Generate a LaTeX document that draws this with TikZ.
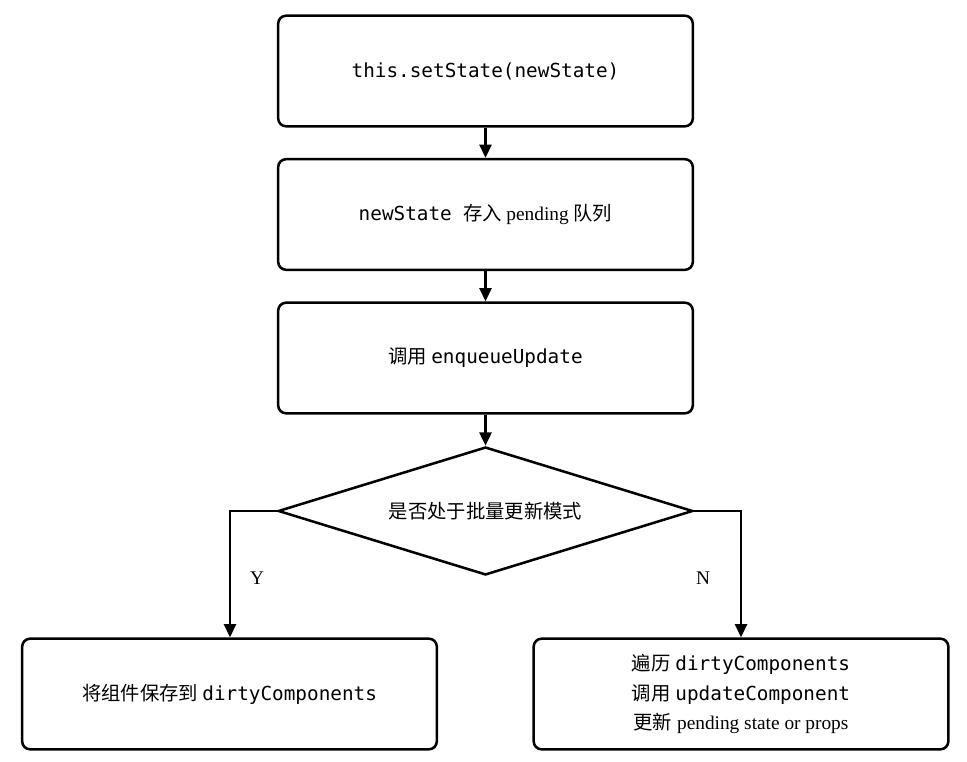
\documentclass[tikz,border=0pt]{standalone}
\usepackage{fontspec}
\setmainfont{Liberation Serif}
\setmonofont{DejaVu Sans Mono}
\newfontfamily\cjk{Noto Sans CJK SC}
\usetikzlibrary{shapes.geometric,arrows.meta}
\begin{document}
\begin{tikzpicture}[x=0.75pt,y=-0.75pt,
  box/.style={draw,line width=1.9pt,rounded corners=6pt,minimum width=311pt,minimum height=83pt,align=center,font=\fontsize{14.5}{22}\selectfont},
  arr/.style={line width=1.9pt,-{Triangle[length=10pt,width=9pt]}},
  lab/.style={font=\fontsize{14.5}{17}\selectfont}]
\useasboundingbox (0,0) rectangle (967,762);
\node[box] (b1) at (485.5,71) {\ttfamily this.setState(newState)};
\node[box] (b2) at (485.5,214.5) {\ttfamily newState \cjk 存入 \rmfamily pending \cjk 队列};
\node[box] (b3) at (485.5,358) {\cjk 调用 \ttfamily enqueueUpdate};
\node[draw,diamond,line width=1.9pt,minimum width=311pt,minimum height=96pt,inner sep=0pt,aspect=3.2,font=\fontsize{14.5}{17}\selectfont] (d) at (485.5,511) {};
\node[font=\fontsize{14.5}{17}\selectfont\cjk] at (d.center) {是否处于批量更新模式};
\node[box] (bl) at (229.5,694) {\cjk 将组件保存到 \ttfamily dirtyComponents};
\node[box] (br) at (741,694) {{\cjk 遍历} \texttt{dirtyComponents}\\{\cjk 调用} \texttt{updateComponent}\\{\cjk 更新} pending state or props};
\draw[arr] (b1) -- (b2);
\draw[arr] (b2) -- (b3);
\draw[arr] (b3) -- (d);
\coordinate (dl) at (d.west);
\coordinate (dr) at (d.east);
\draw[arr] (dl) -| (bl.north -| 230,0);
\draw[arr] (dr) -| (br.north -| 741,0);
\node[lab] at (257,578) {Y};
\node[lab] at (703,578) {N};
\end{tikzpicture}
\end{document}
